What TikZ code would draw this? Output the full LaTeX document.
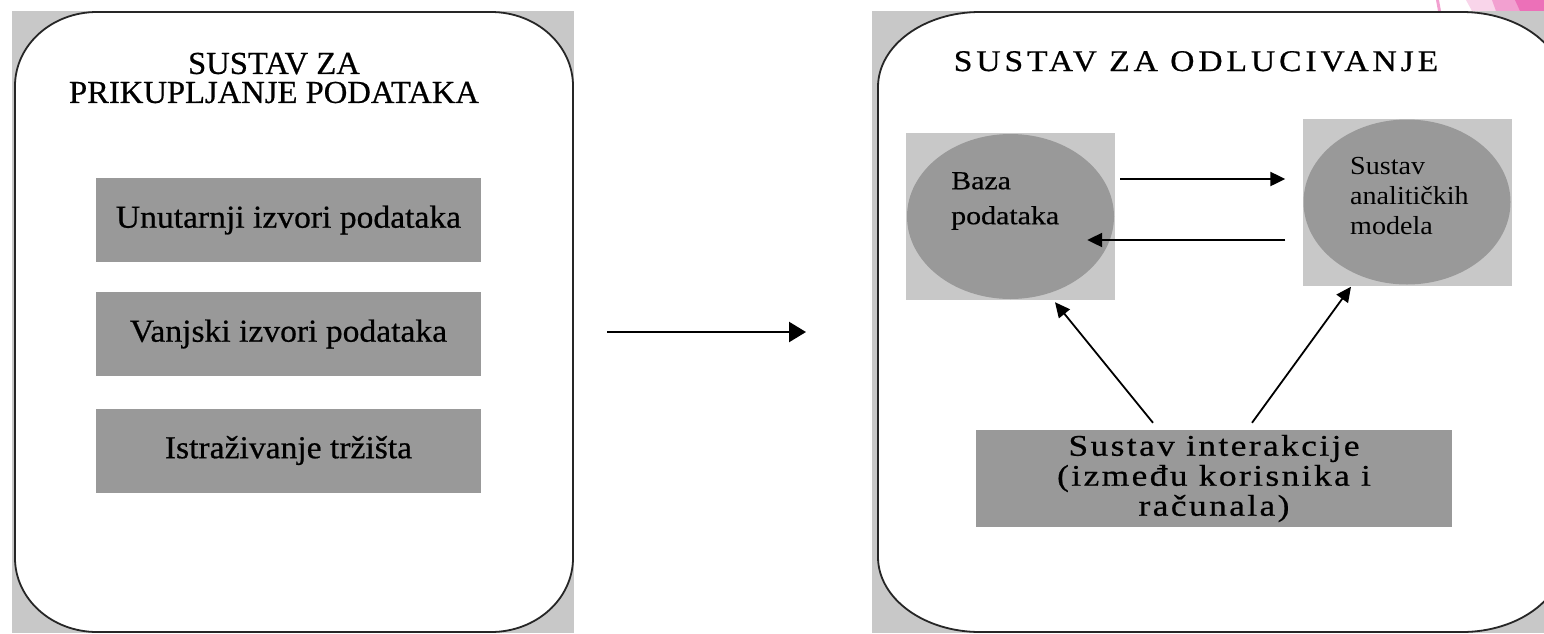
\documentclass[tikz,border=0pt]{standalone}
\usepackage{fontspec}
\setmainfont{Liberation Serif}
\newfontfamily\fTitleL[FakeStretch=1.02,FakeBold=0.6]{Liberation Serif}
\newfontfamily\fTitleR[FakeStretch=1.12,LetterSpace=13,FakeBold=0.6]{Liberation Serif}
\newfontfamily\fBoxL[FakeStretch=1.05,FakeBold=0.6]{Liberation Serif}
\newfontfamily\fBoxB[FakeStretch=1.18,LetterSpace=8,FakeBold=0.6]{Liberation Serif}
\newfontfamily\fBaza[FakeStretch=1.15,FakeBold=0.5]{Liberation Serif}
\newfontfamily\fSust[FakeStretch=1.08]{Liberation Serif}
\usetikzlibrary{arrows.meta,shapes.geometric,calc}
\definecolor{panelgray}{RGB}{200,200,200}
\definecolor{boxgray}{RGB}{153,153,153}
\definecolor{sqgray}{RGB}{200,200,200}
\definecolor{pinkB}{RGB}{249,213,234}
\definecolor{pinkC}{RGB}{242,160,208}
\definecolor{pinkD}{RGB}{236,112,184}
\begin{document}
\begin{tikzpicture}[x=1pt,y=-1pt,
  panelborder/.style={draw=black!85,line width=1.8pt,fill=white},
  ltitle/.style={align=center,inner sep=0pt,font=\fTitleL\fontsize{32}{29}\selectfont},
  rtitle/.style={inner sep=0pt,font=\fTitleR\fontsize{30}{30}\selectfont},
  lbox/.style={fill=boxgray,minimum width=385pt,minimum height=84pt,inner sep=0pt,font=\fBoxL\fontsize{32}{36}\selectfont},
  sqbox/.style={fill=sqgray,minimum width=209pt,minimum height=167pt,inner sep=0pt},
  ellbox/.style={ellipse,fill=boxgray,minimum width=207pt,minimum height=165pt,inner sep=0pt},
  bazatxt/.style={align=left,inner sep=0pt,font=\fBaza\fontsize{26}{35}\selectfont},
  sustxt/.style={align=left,inner sep=0pt,font=\fSust\fontsize{26}{30}\selectfont},
  bbox/.style={fill=boxgray,minimum width=476pt,minimum height=97pt,inner sep=0pt,align=center,font=\fBoxB\fontsize{30}{30}\selectfont},
  arr/.style={line width=2.2pt,-{Triangle[length=15pt,width=14pt]}},
  darr/.style={line width=1.8pt,-{Triangle[length=15pt,width=14pt]}},
  bigarr/.style={line width=2.4pt,-{Triangle[length=17pt,width=20pt]}}
]
\useasboundingbox (0,0) rectangle (1544,633);
\clip (0,0) rectangle (1544,633);
\fill[white] (0,0) rectangle (1544,633);
% pink decoration
\fill[pinkC] (1436,0) -- (1439,0) -- (1441,11) -- (1438,11) -- cycle;
\fill[pinkB] (1466,0) -- (1544,0) -- (1544,11) -- (1472,11) -- cycle;
\fill[pinkC] (1492,0) -- (1544,0) -- (1544,11) -- (1496,11) -- cycle;
\fill[pinkD] (1515,0) -- (1544,0) -- (1544,11) -- (1520,11) -- cycle;
% panels
\fill[panelgray] (12,11) rectangle (574,633);
\fill[panelgray] (872,11) rectangle (1544,633);
\path[panelborder] (97,12) -- (491,12) .. controls (536.3,12) and (573,45.1) .. (573,86)
  -- (573,558) .. controls (573,598.9) and (536.3,632) .. (491,632)
  -- (97,632) .. controls (51.7,632) and (15,598.9) .. (15,558)
  -- (15,86) .. controls (15,45.1) and (51.7,12) .. (97,12) -- cycle;
\path[panelborder] (980,12) -- (1462,12) .. controls (1518.3,12) and (1564,45.6) .. (1564,87)
  -- (1564,557) .. controls (1564,598.4) and (1518.3,632) .. (1462,632)
  -- (980,632) .. controls (923.7,632) and (878,598.4) .. (878,557)
  -- (878,87) .. controls (878,45.6) and (923.7,12) .. (980,12) -- cycle;
% left panel
\node[ltitle] (tL) at (274,78) {SUSTAV ZA\\PRIKUPLJANJE PODATAKA};
\node[lbox] (b1) at (288.5,220) {Unutarnji izvori podataka};
\node[lbox] (b2) at (288.5,334) {Vanjski izvori podataka};
\node[lbox] (b3) at (288.5,450.5) {Istraživanje tržišta};
% middle arrow
\coordinate (m1) at (607,332);
\coordinate (m2) at (806,332);
\draw[bigarr] (m1) -- (m2);
% right panel
\node[rtitle,anchor=base] (tR) at (1196,71) {SUSTAV ZA ODLUCIVANJE};
\node[sqbox] (sqL) at (1010.5,216.5) {};
\node[sqbox] (sqR) at (1407,202) {};
\node[ellbox] (eL) at (sqL.center) {};
\node[ellbox] (eR) at (sqR.center) {};
\node[bazatxt,anchor=north west] (tBaza) at (951,172) {Baza\\podataka};
\node[sustxt,anchor=north west] (tSus) at (1350,157) {Sustav\\analitičkih\\modela};
\node[bbox] (bI) at (1214,478.5) {Sustav interakcije\\(između korisnika i\\računala)};
\coordinate (yTop) at (0,179);
\coordinate (yBot) at (0,240);
\draw[arr] ($(sqL.east |- yTop)+(5,0)$) -- ($(sqR.west |- yTop)+(-17,0)$);
\draw[arr] ($(sqR.west |- yBot)+(-17,0)$) -- ($(sqL.east |- yBot)+(-28,0)$);
\draw[darr] ($(bI.north)+(-61,-7)$) -- ($(sqL.south)+(44.5,2)$);
\draw[darr] ($(bI.north)+(38,-7)$) -- ($(sqR.south)+(-56,1)$);
\end{tikzpicture}
\end{document}
